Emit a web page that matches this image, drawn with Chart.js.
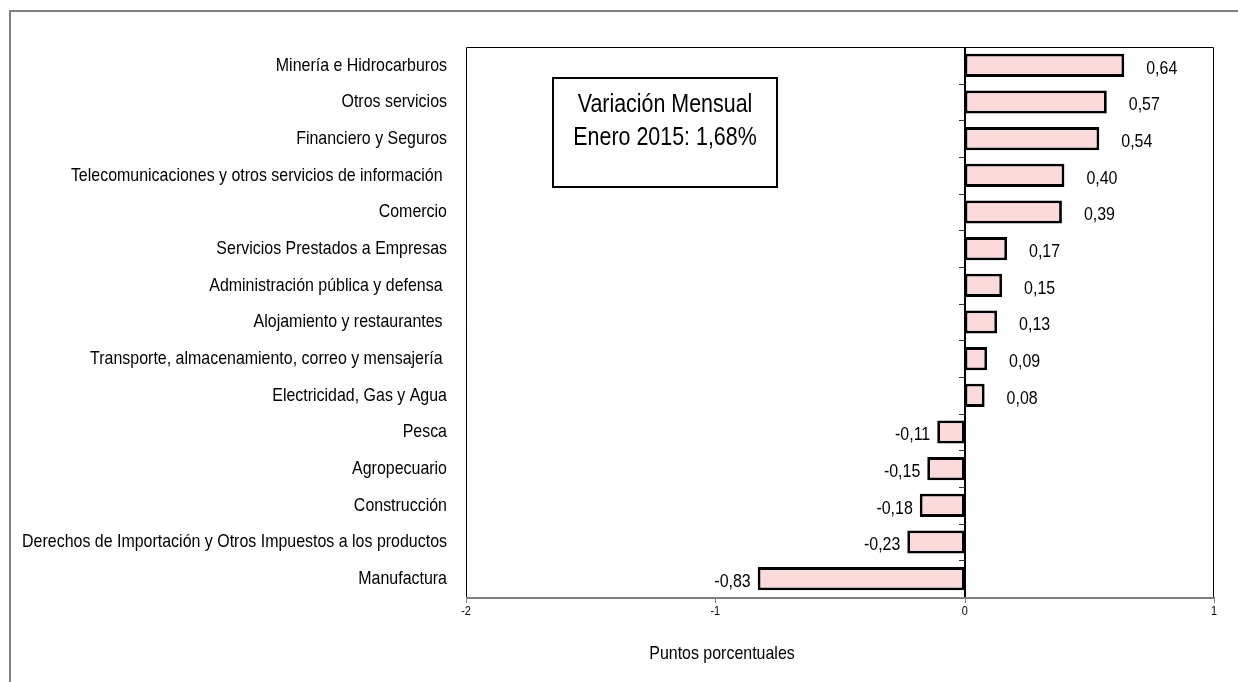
<!DOCTYPE html>
<html>
<head>
<meta charset="utf-8">
<script src="https://cdn.jsdelivr.net/npm/chart.js@4.4.1/dist/chart.umd.min.js"></script>
<style>
html,body{margin:0;padding:0;background:#fff;}
#wrap{width:1238px;height:682px;position:relative;}
</style>
</head>
<body>
<div id="wrap"><canvas id="c" width="1238" height="682"></canvas></div>
<script>
const categories = [
  "Minería e Hidrocarburos",
  "Otros servicios",
  "Financiero y Seguros",
  "Telecomunicaciones y otros servicios de información ",
  "Comercio",
  "Servicios Prestados a Empresas",
  "Administración pública y defensa ",
  "Alojamiento y restaurantes ",
  "Transporte, almacenamiento, correo y mensajería ",
  "Electricidad, Gas y Agua",
  "Pesca",
  "Agropecuario",
  "Construcción",
  "Derechos de Importación y Otros Impuestos a los productos",
  "Manufactura"
];
const values = [0.64, 0.57, 0.54, 0.40, 0.39, 0.17, 0.15, 0.13, 0.09, 0.08, -0.11, -0.15, -0.18, -0.23, -0.83];
const xTicks = [-2, -1, 0, 1];
const boxLines = ["Variación Mensual", "Enero 2015: 1,68%"];
const axisTitle = "Puntos porcentuales";

const FONT = '"Liberation Sans", Arial, sans-serif';
const NARROW = 0.84;

function narrowText(ctx, txt, x, y, size, align) {
  ctx.save();
  ctx.font = size + 'px ' + FONT;
  ctx.textAlign = align;
  ctx.textBaseline = 'middle';
  ctx.fillStyle = '#000';
  ctx.translate(x, y);
  ctx.scale(NARROW, 1);
  ctx.fillText(txt, 0, 0);
  ctx.restore();
}

const decor = {
  id: 'decor',
  beforeDraw(chart) {
    const ctx = chart.ctx;
    ctx.save();
    ctx.fillStyle = '#fff';
    ctx.fillRect(0, 0, chart.width, chart.height);
    ctx.strokeStyle = '#808080';
    ctx.lineWidth = 2;
    ctx.strokeRect(10, 11, chart.width + 20, chart.height + 20);
    ctx.restore();
  },
  afterDatasetsDraw(chart) {
    const ctx = chart.ctx;
    const a = chart.chartArea;
    const xs = chart.scales.x, ys = chart.scales.y;
    ctx.save();
    // plot frame
    ctx.strokeStyle = '#000';
    ctx.lineWidth = 1;
    ctx.beginPath();
    ctx.moveTo(a.left + 0.5, a.bottom);
    ctx.lineTo(a.left + 0.5, a.top + 0.5);
    ctx.lineTo(a.right - 0.5, a.top + 0.5);
    ctx.lineTo(a.right - 0.5, a.bottom);
    ctx.stroke();
    // zero axis with category tick marks
    const x0 = Math.round(xs.getPixelForValue(0));
    ctx.lineWidth = 2;
    ctx.beginPath();
    ctx.moveTo(x0, a.top);
    ctx.lineTo(x0, a.bottom);
    ctx.stroke();
    ctx.lineWidth = 1;
    ctx.strokeStyle = '#333';
    const n = categories.length;
    const step = (a.bottom - a.top) / n;
    ctx.beginPath();
    for (let i = 1; i < n; i++) {
      const y = Math.round(ys.getPixelForValue(i) - step / 2) + 0.5;
      ctx.moveTo(x0 - 6, y);
      ctx.lineTo(x0, y);
    }
    ctx.stroke();
    // bottom axis line + ticks
    ctx.strokeStyle = '#808080';
    ctx.lineWidth = 2;
    ctx.beginPath();
    ctx.moveTo(a.left, a.bottom + 1);
    ctx.lineTo(a.right, a.bottom + 1);
    ctx.stroke();
    ctx.lineWidth = 1;
    ctx.beginPath();
    xTicks.forEach(v => {
      const x = Math.round(xs.getPixelForValue(v)) + 0.5;
      ctx.moveTo(x, a.bottom);
      ctx.lineTo(x, a.bottom + 6);
    });
    ctx.stroke();
    ctx.restore();
    // x tick labels
    xTicks.forEach(v => {
      narrowText(ctx, String(v), xs.getPixelForValue(v), a.bottom + 14, 13, 'center');
    });
    // category labels
    categories.forEach((c, i) => {
      narrowText(ctx, c, a.left - 19, ys.getPixelForValue(i), 19, 'right');
    });
    // data labels
    const meta = chart.getDatasetMeta(0);
    meta.data.forEach((bar, i) => {
      const v = values[i];
      const txt = v.toFixed(2).replace('.', ',');
      if (v >= 0) narrowText(ctx, txt, bar.x + 22, bar.y + 3, 19, 'left');
      else narrowText(ctx, txt, bar.x - 7, bar.y + 3, 19, 'right');
    });
    // annotation box
    ctx.save();
    ctx.strokeStyle = '#000';
    ctx.lineWidth = 2;
    ctx.strokeRect(553, 78, 224, 109);
    ctx.restore();
    narrowText(ctx, boxLines[0], 665, 105, 25.5, 'center');
    narrowText(ctx, boxLines[1], 665, 138, 25.5, 'center');
    // axis title
    narrowText(ctx, axisTitle, 722, 654, 19, 'center');
  }
};

new Chart(document.getElementById('c'), {
  type: 'bar',
  data: {
    labels: categories,
    datasets: [{
      data: values,
      backgroundColor: '#fbdadc',
      borderColor: '#000',
      borderWidth: 2.8,
      borderSkipped: false,
      categoryPercentage: 1,
      barPercentage: 0.63
    }]
  },
  options: {
    indexAxis: 'y',
    responsive: false,
    animation: false,
    devicePixelRatio: 1,
    layout: { padding: { top: 47, right: 24, left: 0, bottom: 0 } },
    plugins: { legend: { display: false }, tooltip: { enabled: false } },
    scales: {
      x: {
        type: 'linear',
        min: -2, max: 1,
        afterBuildTicks(scale) { scale.ticks = xTicks.map(v => ({ value: v })); },
        afterFit(scale) { scale.height = 85; },
        grid: { display: false },
        border: { display: false },
        ticks: { display: false }
      },
      y: {
        afterFit(scale) { scale.width = 466; },
        grid: { display: false },
        border: { display: false },
        ticks: { display: false, autoSkip: false }
      }
    }
  },
  plugins: [decor]
});
</script>
</body>
</html>
